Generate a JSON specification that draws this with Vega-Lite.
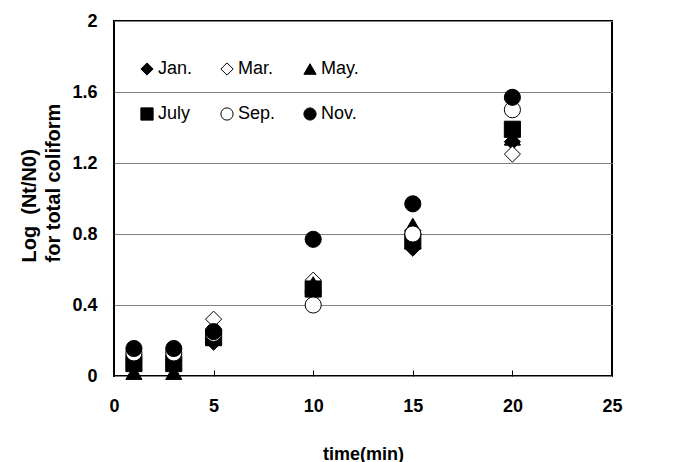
{
  "$schema": "https://vega.github.io/schema/vega-lite/v6.json",
  "width": 498,
  "height": 355,
  "autosize": "none",
  "padding": {"left": 114, "top": 21, "right": 77, "bottom": 86},
  "background": "white",
  "config": {
    "view": {"stroke": "black", "strokeWidth": 2},
    "font": "Liberation Sans"
  },
  "data": {
    "values": [
      {"Month": "Jan.", "time": 1, "logN": 0.09},
      {"Month": "Jan.", "time": 3, "logN": 0.09},
      {"Month": "Jan.", "time": 5, "logN": 0.19},
      {"Month": "Jan.", "time": 10, "logN": 0.47},
      {"Month": "Jan.", "time": 15, "logN": 0.72},
      {"Month": "Jan.", "time": 20, "logN": 1.32},
      {"Month": "Mar.", "time": 1, "logN": 0.12},
      {"Month": "Mar.", "time": 3, "logN": 0.12},
      {"Month": "Mar.", "time": 5, "logN": 0.32},
      {"Month": "Mar.", "time": 10, "logN": 0.54},
      {"Month": "Mar.", "time": 15, "logN": 0.82},
      {"Month": "Mar.", "time": 20, "logN": 1.25},
      {"Month": "May.", "time": 1, "logN": 0.02},
      {"Month": "May.", "time": 3, "logN": 0.02},
      {"Month": "May.", "time": 5, "logN": 0.21},
      {"Month": "May.", "time": 10, "logN": 0.52},
      {"Month": "May.", "time": 15, "logN": 0.85},
      {"Month": "May.", "time": 20, "logN": 1.34},
      {"Month": "July", "time": 1, "logN": 0.07},
      {"Month": "July", "time": 3, "logN": 0.07},
      {"Month": "July", "time": 5, "logN": 0.22},
      {"Month": "July", "time": 10, "logN": 0.49},
      {"Month": "July", "time": 15, "logN": 0.76},
      {"Month": "July", "time": 20, "logN": 1.39},
      {"Month": "Sep.", "time": 1, "logN": 0.13},
      {"Month": "Sep.", "time": 3, "logN": 0.13},
      {"Month": "Sep.", "time": 5, "logN": 0.24},
      {"Month": "Sep.", "time": 10, "logN": 0.40},
      {"Month": "Sep.", "time": 15, "logN": 0.80},
      {"Month": "Sep.", "time": 20, "logN": 1.50},
      {"Month": "Nov.", "time": 1, "logN": 0.155},
      {"Month": "Nov.", "time": 3, "logN": 0.155},
      {"Month": "Nov.", "time": 5, "logN": 0.25},
      {"Month": "Nov.", "time": 10, "logN": 0.77},
      {"Month": "Nov.", "time": 15, "logN": 0.97},
      {"Month": "Nov.", "time": 20, "logN": 1.57}
    ]
  },
  "mark": {"type": "point", "filled": true, "stroke": "black", "strokeWidth": 1, "size": 260, "opacity": 1},
  "encoding": {
    "x": {
      "field": "time", "type": "quantitative",
      "scale": {"domain": [0, 25], "nice": false, "zero": true},
      "axis": {
        "title": "time(min)", "values": [0, 5, 10, 15, 20, 25],
        "grid": false, "domain": false,
        "tickSize": -6, "tickColor": "black", "tickWidth": 1,
        "labelPadding": 27, "labelFont": "Liberation Sans", "labelFontSize": 18, "labelFontWeight": "bold", "labelColor": "black",
        "labelFlush": false,
        "titleFont": "Liberation Sans", "titleFontSize": 18, "titleFontWeight": "bold", "titleColor": "black", "titlePadding": 30
      }
    },
    "y": {
      "field": "logN", "type": "quantitative",
      "scale": {"domain": [0, 2], "nice": false},
      "axis": {
        "title": ["Log \u00a0(Nt/N0)", "for total coliform"],
        "values": [0, 0.4, 0.8, 1.2, 1.6, 2],
        "format": "~g",
        "grid": true, "gridColor": "#808080", "gridWidth": 1.2,
        "domain": false, "ticks": false,
        "labelPadding": 17, "labelFont": "Liberation Sans", "labelFontSize": 18, "labelFontWeight": "bold", "labelColor": "black",
        "labelFlush": false,
        "titleFont": "Liberation Sans", "titleFontSize": 20, "titleFontWeight": "bold", "titleColor": "black",
        "titleLineHeight": 24, "titleAlign": "left", "titleBaseline": "top", "titleAngle": -90,
        "titleX": -95, "titleY": 241
      }
    },
    "shape": {
      "field": "Month", "type": "nominal",
      "scale": {"domain": ["Jan.", "Mar.", "May.", "July", "Sep.", "Nov."], "range": ["diamond", "diamond", "triangle-up", "square", "circle", "circle"]},
      "legend": {
        "title": null, "orient": "none", "legendX": 24, "legendY": 39, "columns": 3, "direction": "horizontal",
        "columnPadding": 25, "rowPadding": 27, "symbolSize": 150, "symbolStrokeColor": "black", "symbolStrokeWidth": 1,
        "labelFont": "Liberation Sans", "labelFontSize": 18, "labelColor": "black", "labelOffset": 2, "symbolOpacity": 1,
        "encode": {"symbols": {"update": {"stroke": {"value": "black"}, "strokeWidth": {"value": 1}}}}
      }
    },
    "fill": {
      "field": "Month", "type": "nominal",
      "scale": {"domain": ["Jan.", "Mar.", "May.", "July", "Sep.", "Nov."], "range": ["black", "white", "black", "black", "white", "black"]},
      "legend": {
        "title": null, "orient": "none", "legendX": 24, "legendY": 39, "columns": 3, "direction": "horizontal",
        "columnPadding": 25, "rowPadding": 27, "symbolSize": 150, "symbolStrokeColor": "black", "symbolStrokeWidth": 1,
        "labelFont": "Liberation Sans", "labelFontSize": 18, "labelColor": "black", "labelOffset": 2, "symbolOpacity": 1,
        "encode": {"symbols": {"update": {"stroke": {"value": "black"}, "strokeWidth": {"value": 1}}}}
      }
    }
  }
}
